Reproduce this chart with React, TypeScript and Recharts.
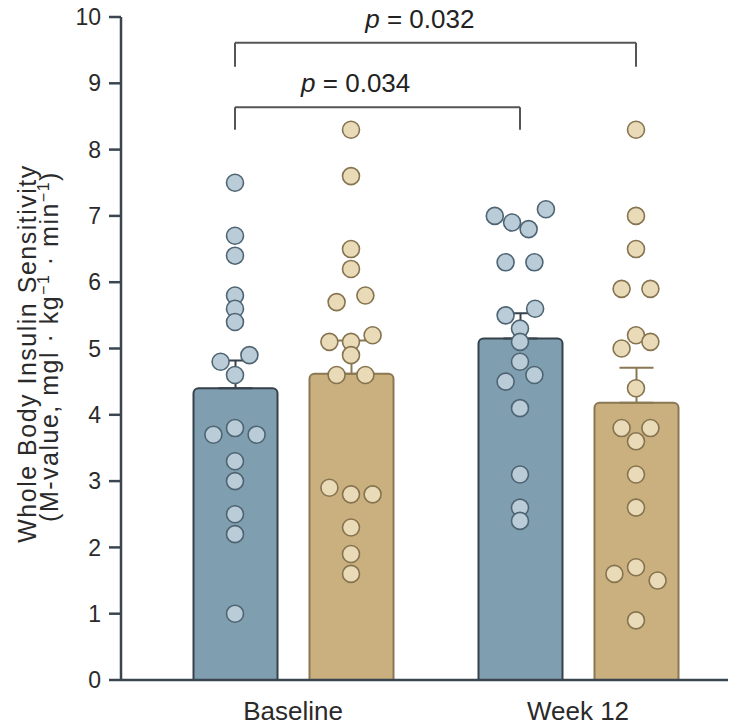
import React from 'react';
import { ComposedChart, Bar, Scatter, XAxis, YAxis, ErrorBar, ReferenceLine, ReferenceDot } from 'recharts';

// timepoints on the category axis
const groups = ['Baseline', 'Week 12'];

// bar heights (mean) and upward error (SEM), blue and tan series
const blueMeans = [4.4, 5.15];
const blueSem = [0.42, 0.38];
const tanMeans = [4.62, 4.18];
const tanSem = [0.5, 0.53];

// individual subjects (M-value); jitter = horizontal beeswarm slot
const blueBaseline = [7.5, 6.7, 6.4, 5.8, 5.6, 5.4, 4.8, 4.9, 4.6, 3.7, 3.8, 3.7, 3.3, 3.0, 2.5, 2.2, 1.0];
const blueBaselineJitter = [0, 0, 0, 0, 0, 0, -2, 2, 0, -3, 0, 3, 0, 0, 0, 0, 0];
const tanBaseline = [8.3, 7.6, 6.5, 6.2, 5.7, 5.8, 5.1, 5.1, 5.2, 4.9, 4.6, 4.6, 2.9, 2.8, 2.8, 2.3, 1.9, 1.6];
const tanBaselineJitter = [0, 0, 0, 0, -2, 2, -3, 0, 3, 0, -2, 2, -3, 0, 3, 0, 0, 0];
const blueWeek12 = [7.0, 6.9, 6.8, 7.1, 6.3, 6.3, 5.5, 5.6, 5.3, 5.1, 4.8, 4.5, 4.6, 4.1, 3.1, 2.6, 2.4];
const blueWeek12Jitter = [-3.5, -1.1, 1.2, 3.6, -2, 2, -2, 2.1, 0, 0, 0, -2, 2, 0, 0, 0, 0];
const tanWeek12 = [8.3, 7.0, 6.5, 5.9, 5.9, 5.0, 5.2, 5.1, 4.4, 3.8, 3.8, 3.6, 3.1, 2.6, 1.6, 1.7, 1.5, 0.9];
const tanWeek12Jitter = [0, 0, 0, -2, 2, -2, 0, 2, 0, -2, 2, 0, 0, 0, -3, 0, 3, 0];

const yTicks = [0, 1, 2, 3, 4, 5, 6, 7, 8, 9, 10];

// significance brackets between bars
const brackets = [
  { from: [0, 'blue'], to: [1, 'blue'], top: 8.64, bottom: 8.3, label: '0.034', labelX: 0.72, labelY: 8.87 },
  { from: [0, 'blue'], to: [1, 'tan'], top: 9.61, bottom: 9.25, label: '0.032', labelX: 0.945, labelY: 9.83 },
];

const BLUE_BAR = '#7f9eb0';
const BLUE_EDGE = '#36424b';
const BLUE_DOT = '#b9ccd8';
const BLUE_DOT_EDGE = '#4e6472';
const TAN_BAR = '#c9b07e';
const TAN_EDGE = '#8a7853';
const TAN_DOT = '#e9dab8';
const TAN_DOT_EDGE = '#86734f';
const AXIS = '#3a4550';
const FONT = '"Liberation Sans", Arial, sans-serif';

const BAND = 285; // px per category
const BAR_OFFSET = 58 / BAND; // bar centre from group centre, in category units
const JITTER_STEP = 7.2 / BAND;

const rows = groups.map((g, i) => ({
  group: g,
  blue: blueMeans[i],
  blueErr: [0, blueSem[i]],
  tan: tanMeans[i],
  tanErr: [0, tanSem[i]],
}));

const barX = (gi: number, side: string) => gi + 0.5 + (side === 'blue' ? -BAR_OFFSET : BAR_OFFSET);

const toPoints = (vals: number[], jit: number[], gi: number, side: string) =>
  vals.map((v, i) => ({ x: barX(gi, side) + jit[i] * JITTER_STEP, y: v }));

const bluePts = [
  ...toPoints(blueBaseline, blueBaselineJitter, 0, 'blue'),
  ...toPoints(blueWeek12, blueWeek12Jitter, 1, 'blue'),
];
const tanPts = [
  ...toPoints(tanBaseline, tanBaselineJitter, 0, 'tan'),
  ...toPoints(tanWeek12, tanWeek12Jitter, 1, 'tan'),
];

const dot = (fill: string, stroke: string) => (p: any) => (
  <circle cx={p.cx} cy={p.cy} r={8.5} fill={fill} stroke={stroke} strokeWidth={1.6} />
);

const YLabel = (props: any) => {
  const vb = props.viewBox || { x: 0, y: 17, width: 121, height: 663 };
  const cy = vb.y + vb.height / 2;
  return (
    <g fill="#2a2a2a" fontFamily={FONT}>
      <text transform={`translate(36, ${cy + 5}) rotate(-90)`} textAnchor="middle" fontSize={25} letterSpacing={1.5}>
        Whole Body Insulin Sensitivity
      </text>
      <text transform={`translate(58, ${cy - 2}) rotate(-90)`} textAnchor="middle" fontSize={25} letterSpacing={1.5}>
        (M-value, mgl · kg<tspan dy={-9} fontSize={16}>−1</tspan>
        <tspan dy={9}> · min</tspan>
        <tspan dy={-9} fontSize={16}>−1</tspan>
        <tspan dy={9}>)</tspan>
      </text>
    </g>
  );
};

const pLabel = (value: string) => (p: any) => {
  const vb = p.viewBox;
  const x = vb.x + (vb.width || 0) / 2;
  const y = vb.y + (vb.height || 0) / 2;
  return (
    <text x={x} y={y} textAnchor="middle" fontSize={26} fontFamily={FONT} fill="#222">
      <tspan fontStyle="italic">p</tspan> = {value}
    </text>
  );
};

export default function App() {
  return (
    <div style={{ position: 'absolute', left: 0, top: 0, width: 730, height: 728, background: '#fff' }}>
      <ComposedChart
        width={730}
        height={728}
        data={rows}
        margin={{ top: 17, right: 2, bottom: 0, left: 0 }}
        barGap={32}
      >
        <XAxis
          xAxisId="cat"
          dataKey="group"
          type="category"
          padding={{ left: 29.5, right: 7.5 }}
          height={48}
          tickLine={false}
          tickSize={0}
          tickMargin={22}
          axisLine={{ stroke: AXIS, strokeWidth: 2.5 }}
          tick={{ fontSize: 26, fill: '#2a2a2a', fontFamily: FONT }}
        />
        <XAxis
          xAxisId="num"
          dataKey="x"
          type="number"
          domain={[0, 2]}
          allowDataOverflow
          padding={{ left: 29.5, right: 7.5 }}
          hide
        />
        <YAxis
          type="number"
          domain={[0, 10]}
          ticks={yTicks}
          interval={0}
          width={121}
          tickSize={12}
          tickMargin={8}
          allowDataOverflow
          axisLine={{ stroke: AXIS, strokeWidth: 2.5 }}
          tickLine={{ stroke: AXIS, strokeWidth: 2.5 }}
          tick={{ fontSize: 23, fill: '#2a2a2a', fontFamily: FONT }}
          label={{ content: (p: any) => <YLabel {...p} /> }}
        />
        <Bar
          xAxisId="cat"
          dataKey="blue"
          barSize={84}
          fill={BLUE_BAR}
          stroke={BLUE_EDGE}
          strokeWidth={2}
          radius={[5, 5, 0, 0]}
          isAnimationActive={false}
        >
          <ErrorBar dataKey="blueErr" width={17} stroke={BLUE_EDGE} strokeWidth={2} direction="y" />
        </Bar>
        <Bar
          xAxisId="cat"
          dataKey="tan"
          barSize={84}
          fill={TAN_BAR}
          stroke={TAN_EDGE}
          strokeWidth={2}
          radius={[5, 5, 0, 0]}
          isAnimationActive={false}
        >
          <ErrorBar dataKey="tanErr" width={17} stroke={TAN_EDGE} strokeWidth={2} direction="y" />
        </Bar>
        <Scatter xAxisId="num" data={bluePts} dataKey="y" shape={dot(BLUE_DOT, BLUE_DOT_EDGE)} isAnimationActive={false} />
        <Scatter xAxisId="num" data={tanPts} dataKey="y" shape={dot(TAN_DOT, TAN_DOT_EDGE)} isAnimationActive={false} />
        {brackets.map((b, i) => {
          const x1 = barX(b.from[0] as number, b.from[1] as string);
          const x2 = barX(b.to[0] as number, b.to[1] as string);
          const st = { stroke: '#555', strokeWidth: 2 };
          return [
            <ReferenceLine key={`h${i}`} xAxisId="num" segment={[{ x: x1, y: b.top }, { x: x2, y: b.top }]} {...st} />,
            <ReferenceLine key={`l${i}`} xAxisId="num" segment={[{ x: x1, y: b.top }, { x: x1, y: b.bottom }]} {...st} />,
            <ReferenceLine key={`r${i}`} xAxisId="num" segment={[{ x: x2, y: b.top }, { x: x2, y: b.bottom }]} {...st} />,
            <ReferenceDot key={`t${i}`} xAxisId="num" x={b.labelX} y={b.labelY} r={0} fill="none" stroke="none" label={{ content: pLabel(b.label) }} />,
          ];
        })}
      </ComposedChart>
    </div>
  );
}
